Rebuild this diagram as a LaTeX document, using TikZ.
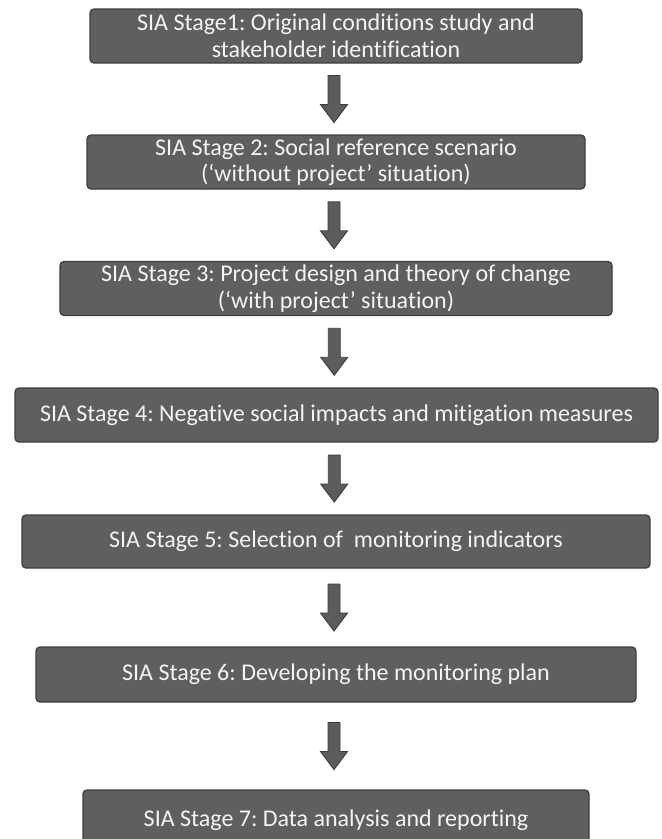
\documentclass[tikz,border=0pt]{standalone}
\usepackage{fontspec}
\setmainfont{Carlito}[Ligatures={NoCommon}]
\usetikzlibrary{calc}
\frenchspacing
\definecolor{boxfill}{HTML}{5F5F5F}
\definecolor{boxline}{HTML}{3E3E3E}
\definecolor{boxtext}{HTML}{F4F4F4}
\definecolor{arrowfill}{HTML}{5C5C5C}
\begin{document}
\begin{tikzpicture}[x=1pt,y=-1pt,
  stagebox/.style={draw=boxline, fill=boxfill, line width=1.3pt,
    rounded corners=4pt, text=boxtext, align=center, inner sep=0pt,
    minimum height=54pt, font=\fontsize{24}{26.5}\selectfont},
  flowarrow/.style={draw=boxline, fill=arrowfill, line width=0.9pt, line join=miter}]
  \fill[white] (0,0) rectangle (662,839);
  \useasboundingbox (0,0) rectangle (662,839);

  % the seven stages
  \node[stagebox, minimum width=492pt] (s1) at (336,36)
    {SIA Stage1: Original conditions study and\\stakeholder identification};
  \node[stagebox, minimum width=498pt] (s2) at (336,162)
    {SIA Stage 2: Social reference scenario\\(‘without project’ situation)};
  \node[stagebox, minimum width=552pt] (s3) at (336,288.5)
    {SIA Stage 3: Project design and theory of change\\(‘with project’ situation)};
  \node[stagebox, minimum width=643pt] (s4) at (336.5,415)
    {SIA Stage 4: Negative social impacts and mitigation measures};
  \node[stagebox, minimum width=628pt, minimum height=53pt] (s5) at (336,541.5)
    {SIA Stage 5: Selection of\ \ monitoring indicators};
  \node[stagebox, minimum width=600pt, minimum height=55pt] (s6) at (336,674.5)
    {SIA Stage 6: Developing the monitoring plan};
  \node[stagebox, minimum width=506pt, minimum height=60pt] (s7) at (336,820)
    {SIA Stage 7: Data analysis and reporting};

  % block arrows centred in the gaps between consecutive stages
  \foreach \a/\b in {s1/s2, s2/s3, s3/s4, s4/s5, s5/s6, s6/s7}{
    \coordinate (m) at ($(\a.south)!0.5!(\b.north)+(-2,0)$);
    \draw[flowarrow] ($(m)+(-6,-23.5)$) -- ($(m)+(-6,5.5)$) -- ($(m)+(-13.5,5.5)$)
      -- ($(m)+(0,23.5)$) -- ($(m)+(13.5,5.5)$) -- ($(m)+(6,5.5)$)
      -- ($(m)+(6,-23.5)$) -- cycle;
  }
\end{tikzpicture}
\end{document}
